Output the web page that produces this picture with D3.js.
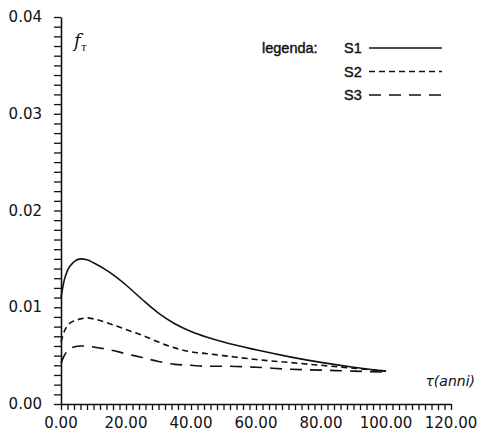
<!DOCTYPE html>
<html><head><meta charset="utf-8">
<script src="https://cdn.jsdelivr.net/npm/d3@7"></script>
<style>
body{margin:0;background:#fff;}
svg{display:block;}
</style></head>
<body>
<svg id="c" width="478" height="435"></svg>
<script>
const tValues = [0,1,2,4,6,8,10,15,20,25,30,35,40,45,50,60,70,80,90,100];
const s1Values = [0.0110,0.0128,0.0138,0.0147,0.0150,0.0149,0.0146,0.0136,0.0123,0.0108,0.0094,0.0083,0.0075,0.0069,0.0064,0.0056,0.0049,0.0043,0.0038,0.0034];
const s2Values = [0.0064,0.0075,0.0081,0.0086,0.0088,0.0089,0.0088,0.0083,0.0077,0.0071,0.0064,0.0058,0.0054,0.0052,0.0050,0.0046,0.0043,0.0040,0.0037,0.0034];
const s3Values = [0.0042,0.0050,0.0055,0.0059,0.0060,0.0060,0.0059,0.0056,0.0052,0.0048,0.0044,0.0041,0.0040,0.0039,0.0039,0.0038,0.0036,0.0035,0.0034,0.0033];
const seriesNames = ["S1","S2","S3"];
const xTickLabels = ["0.00","20.00","40.00","60.00","80.00","100.00","120.00"];
const yTickLabels = ["0.00","0.01","0.02","0.03","0.04"];
const xTickValues = [0,20,40,60,80,100,120];
const yTickValues = [0,0.01,0.02,0.03,0.04];

const dashes = ["none","6,4","12,8"];
const svg = d3.select("#c");
const x = d3.scaleLinear().domain([0,120]).range([61,451]);
const y = d3.scaleLinear().domain([0,0.04]).range([404,17]);
const tickFont = "'DejaVu Sans', sans-serif";
const ink = "#111";

const xMinor = d3.range(0,121,2);
const yMinor = d3.range(0,41,1).map(d=>d/1000);

// axes with minor ticks
const xAxis = d3.axisBottom(x).tickValues(xMinor).tickSizeInner(6).tickSizeOuter(0).tickFormat(() => "");
const yAxis = d3.axisLeft(y).tickValues(yMinor).tickSizeInner(7).tickSizeOuter(0).tickFormat(() => "");
svg.append("g").attr("class","x-axis").attr("transform",`translate(0,${y(0)})`).call(xAxis);
svg.append("g").attr("class","y-axis").attr("transform",`translate(${x(0)},0)`).call(yAxis);
svg.selectAll(".x-axis path, .y-axis path").attr("stroke",ink).attr("stroke-width",1.6);
svg.selectAll(".x-axis line, .y-axis line").attr("stroke",ink).attr("stroke-width",1.3);

// tick labels
svg.append("g").selectAll("text").data(xTickValues).join("text")
  .attr("x",d=>x(d)).attr("y",y(0)+24)
  .attr("text-anchor","middle")
  .attr("font-family",tickFont).attr("font-size",15).attr("fill",ink)
  .text((d,i)=>xTickLabels[i]);
svg.append("g").selectAll("text").data(yTickValues).join("text")
  .attr("x",42).attr("y",d=>y(d)+5)
  .attr("text-anchor","end")
  .attr("font-family",tickFont).attr("font-size",15).attr("fill",ink)
  .text((d,i)=>yTickLabels[i]);

// axis titles
const fy = svg.append("text").attr("x",74).attr("y",47)
  .attr("font-family","'DejaVu Serif', serif").attr("font-style","italic")
  .attr("font-size",18).attr("fill",ink);
fy.append("tspan").text("f");
fy.append("tspan").attr("font-size",11).attr("dy",4).text("τ");
svg.append("text").attr("x",475).attr("y",386).attr("text-anchor","end")
  .attr("font-family","'DejaVu Sans', sans-serif").attr("font-style","italic")
  .attr("font-size",14).attr("fill",ink).text("τ(anni)");

// curves
const allSeries = [s1Values,s2Values,s3Values];
const line = d3.line().x(d=>x(d[0])).y(d=>y(d[1])).curve(d3.curveMonotoneX);
allSeries.forEach((vals,i)=>{
  svg.append("path")
    .datum(tValues.map((t,j)=>[t,vals[j]]))
    .attr("d",line).attr("fill","none").attr("stroke",ink)
    .attr("stroke-width",1.6).attr("stroke-dasharray",dashes[i]);
});

// legend
const lg = svg.append("g").attr("font-family","'Liberation Sans', Arial, sans-serif")
  .attr("font-size",14.5).attr("fill",ink).attr("stroke",ink).attr("stroke-width",0.4);
lg.append("text").attr("x",262).attr("y",53).text("legenda:");
seriesNames.forEach((n,i)=>{
  const yy = 53 + i*23.5;
  lg.append("text").attr("x",344).attr("y",yy).text(n);
  lg.append("line").attr("x1",369).attr("x2",442).attr("y1",yy-5).attr("y2",yy-5)
    .attr("stroke-width",1.6).attr("stroke-dasharray",dashes[i]);
});
</script>
</body></html>
